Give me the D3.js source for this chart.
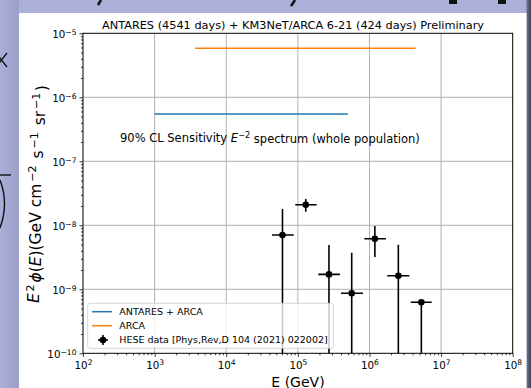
<!DOCTYPE html>
<html><head><meta charset="utf-8">
<script src="https://cdn.jsdelivr.net/npm/d3@7/dist/d3.min.js"></script>
<style>html,body{margin:0;padding:0;background:#a8aed6;}svg{display:block;font-family:"DejaVu Sans",sans-serif;}</style>
</head><body>
<svg id="c" width="531" height="388"></svg>
<script>
// ---- data ----
const titleText = "ANTARES (4541 days) + KM3NeT/ARCA 6-21 (424 days) Preliminary";
const xTicks = [1e2, 1e3, 1e4, 1e5, 1e6, 1e7, 1e8];
const yTicks = [1e-10, 1e-9, 1e-8, 1e-7, 1e-6, 1e-5];
const xTickExp = ["2", "3", "4", "5", "6", "7", "8"];
const yTickExp = ["−10", "−9", "−8", "−7", "−6", "−5"];
// sensitivity lines
const antaresArcaE = [1e3, 5.0e5];
const antaresArcaFlux = [5.48e-7, 5.48e-7];
const arcaE = [3.67e3, 4.41e6];
const arcaFlux = [5.83e-6, 5.83e-6];
// HESE data points
const heseE = [6.1e4, 1.29e5, 2.72e5, 5.65e5, 1.19e6, 2.53e6, 5.3e6];
const heseELow = [4.36e4, 9.2e4, 1.93e5, 4.0e5, 8.47e5, 1.77e6, 3.77e6];
const heseEHigh = [8.75e4, 1.83e5, 3.87e5, 8.11e5, 1.70e6, 3.6e6, 7.4e6];
const heseFlux = [7.05e-9, 2.1e-8, 1.71e-9, 8.66e-10, 6.18e-9, 1.63e-9, 6.26e-10];
const heseFluxLow = [1e-12, 1.63e-8, 1e-12, 1e-12, 3.2e-9, 1e-12, 1e-12];
const heseFluxHigh = [1.8e-8, 2.58e-8, 4.92e-9, 3.73e-9, 9.75e-9, 4.97e-9, 6.26e-10];
const legendLabels = ["ANTARES + ARCA", "ARCA", "HESE data [Phys,Rev,D 104 (2021) 022002]"];

// ---- layout ----
const svg = d3.select("#c");
const L = 83, R = 512.7, T = 33.3, B = 353.3;
const x = d3.scaleLog().domain([1e2, 1e8]).range([L, R]);
const y = d3.scaleLog().domain([1e-10, 1e-5]).range([B, T]);
const blue = "#1f77b4", orange = "#ff7f0e";

// background (slide)
const defs = svg.append("defs");
const g1 = defs.append("linearGradient").attr("id","rstrip").attr("x1",0).attr("x2",1).attr("y1",0).attr("y2",0);
g1.append("stop").attr("offset","0%").attr("stop-color","#6d7290");
g1.append("stop").attr("offset","100%").attr("stop-color","#3f4254");
const g2 = defs.append("linearGradient").attr("id","lstrip").attr("x1",0).attr("x2",1).attr("y1",0).attr("y2",0);
g2.append("stop").attr("offset","0%").attr("stop-color","#a9afd8");
g2.append("stop").attr("offset","100%").attr("stop-color","#9aa0c8");
svg.append("rect").attr("width",531).attr("height",388).attr("fill","#aab0d8");
svg.append("rect").attr("x",0).attr("y",0).attr("width",19).attr("height",388).attr("fill","url(#lstrip)");
svg.append("rect").attr("x",526.5).attr("y",0).attr("width",4.5).attr("height",388).attr("fill","url(#rstrip)");
// fragments of slide text behind the figure
const frag = svg.append("g").attr("fill","#111").attr("stroke","#111");
frag.append("path").attr("d","M101,0 L98,5").attr("stroke-width",2.5).attr("fill","none");
frag.append("path").attr("d","M295,0 L291,6").attr("stroke-width",2.5).attr("fill","none");
frag.append("rect").attr("x",449).attr("y",0).attr("width",8).attr("height",4).attr("stroke","none");
frag.append("rect").attr("x",498).attr("y",0).attr("width",8).attr("height",4).attr("stroke","none");
frag.append("path").attr("d","M-4,53 L7,67 M7,53 L-4,67").attr("stroke-width",1.3).attr("fill","none");
frag.append("path").attr("d","M0,175 L11,175").attr("stroke-width",1.4).attr("fill","none");
frag.append("path").attr("d","M0,180 Q9,203 0,228").attr("stroke-width",1.4).attr("fill","none");

// figure panel
svg.append("rect").attr("x",19).attr("y",13).attr("width",507.5).attr("height",375).attr("fill","#ffffff");

// grid
const grid = svg.append("g").attr("stroke","#b0b0b0").attr("stroke-width",1);
grid.selectAll(".gx").data(xTicks.slice(1,-1)).join("line")
  .attr("x1",d=>x(d)).attr("x2",d=>x(d)).attr("y1",T).attr("y2",B);
grid.selectAll(".gy").data(yTicks.slice(1,-1)).join("line")
  .attr("y1",d=>y(d)).attr("y2",d=>y(d)).attr("x1",L).attr("x2",R);

// minor tick values
const minorX = [], minorY = [];
for (let k=2;k<8;k++) for (let m=2;m<10;m++) minorX.push(m*Math.pow(10,k));
for (let k=-10;k<-5;k++) for (let m=2;m<10;m++) minorY.push(m*Math.pow(10,k));

function supLabel(sel, exps){
  sel.selectAll("text").each(function(d,i){
    const t = d3.select(this); t.text("");
    t.append("tspan").text("10");
    t.append("tspan").attr("dy","-0.45em").attr("font-size","7.6px").text(exps[i]);
  });
}

// axes
const gxMinor = svg.append("g").attr("transform",`translate(0,${B})`)
  .call(d3.axisBottom(x).tickValues(minorX).tickSize(2).tickFormat(""));
const gyMinor = svg.append("g").attr("transform",`translate(${L},0)`)
  .call(d3.axisLeft(y).tickValues(minorY).tickSize(2).tickFormat(""));
const gx = svg.append("g").attr("transform",`translate(0,${B})`)
  .call(d3.axisBottom(x).tickValues(xTicks).tickSize(3.5).tickPadding(3).tickFormat(()=>"x"));
const gy = svg.append("g").attr("transform",`translate(${L},0)`)
  .call(d3.axisLeft(y).tickValues(yTicks).tickSize(3.5).tickPadding(3).tickFormat(()=>"x"));
[gxMinor,gyMinor,gx,gy].forEach(g=>{
  g.select(".domain").remove();
  g.selectAll("line").attr("stroke","#000").attr("stroke-width",0.8);
});
[gx,gy].forEach(g=>g.attr("font-family","DejaVu Sans").attr("font-size",10.3));
gx.selectAll("text").attr("fill","#000").attr("dy","0.85em");
gy.selectAll("text").attr("fill","#000").attr("dy","0.45em");
supLabel(gx, xTickExp);
supLabel(gy, yTickExp);

// plot frame
svg.append("rect").attr("x",L).attr("y",T).attr("width",R-L).attr("height",B-T)
  .attr("fill","none").attr("stroke","#000").attr("stroke-width",1);

// clip
defs.append("clipPath").attr("id","plotclip").append("rect")
  .attr("x",L).attr("y",T).attr("width",R-L).attr("height",B-T);
const plot = svg.append("g").attr("clip-path","url(#plotclip)");

// sensitivity lines
const line = d3.line().x(d=>x(d[0])).y(d=>y(d[1]));
plot.append("path").attr("d", line(d3.zip(antaresArcaE, antaresArcaFlux)))
  .attr("stroke",blue).attr("stroke-width",1.5).attr("fill","none");
plot.append("path").attr("d", line(d3.zip(arcaE, arcaFlux)))
  .attr("stroke",orange).attr("stroke-width",1.5).attr("fill","none");

// HESE points
const pts = heseE.map((e,i)=>({e, el:heseELow[i], eh:heseEHigh[i], f:heseFlux[i], fl:heseFluxLow[i], fh:heseFluxHigh[i]}));
const pg = plot.append("g");
pg.selectAll(".xe").data(pts).join("line")
  .attr("x1",d=>x(d.el)).attr("x2",d=>x(d.eh)).attr("y1",d=>y(d.f)).attr("y2",d=>y(d.f))
  .attr("stroke","#000").attr("stroke-width",1.6);
pg.selectAll(".ye").data(pts).join("line")
  .attr("x1",d=>x(d.e)).attr("x2",d=>x(d.e)).attr("y1",d=>y(d.fl)).attr("y2",d=>y(d.fh))
  .attr("stroke","#000").attr("stroke-width",1.6);
pg.selectAll("circle").data(pts).join("circle")
  .attr("cx",d=>x(d.e)).attr("cy",d=>y(d.f)).attr("r",3.3).attr("fill","#000");

// annotation
const ann = svg.append("text").attr("x",120).attr("y",141.5).attr("font-size","11.5px").attr("fill","#000");
ann.append("tspan").text("90% CL Sensitivity ");
ann.append("tspan").attr("font-style","italic").text("E");
ann.append("tspan").attr("dy","-0.45em").attr("font-size","8.2px").text("−2");
ann.append("tspan").attr("dy","0.45em").text(" spectrum (whole population)");

// title
svg.append("text").attr("x",293).attr("y",29).attr("text-anchor","middle")
  .attr("font-size","11.3px").attr("fill","#000").text(titleText);

// x label
svg.append("text").attr("x",298).attr("y",386.5).attr("text-anchor","middle")
  .attr("font-size","14px").attr("fill","#000").text("E (GeV)");

// y label
const yl = svg.append("text").attr("transform","translate(38.5,194) rotate(-90)")
  .attr("text-anchor","middle").attr("font-size","15.5px").attr("fill","#000");
yl.append("tspan").attr("font-style","italic").text("E");
yl.append("tspan").attr("dx",1.5).attr("dy","-0.45em").attr("font-size","11px").text("2");
yl.append("tspan").attr("dx",2).attr("dy","0.45em").attr("font-style","italic").text("ϕ");
yl.append("tspan").text("(");
yl.append("tspan").attr("font-style","italic").text("E");
yl.append("tspan").text(")(GeV cm");
yl.append("tspan").attr("dx",2).attr("dy","-0.45em").attr("font-size","11px").text("−2");
yl.append("tspan").attr("dx",2).attr("dy","0.45em").text(" s");
yl.append("tspan").attr("dx",2).attr("dy","-0.45em").attr("font-size","11px").text("−1");
yl.append("tspan").attr("dx",2).attr("dy","0.45em").text(" sr");
yl.append("tspan").attr("dx",2).attr("dy","-0.45em").attr("font-size","11px").text("−1");
yl.append("tspan").attr("dx",1.5).attr("dy","0.45em").text(")");

// legend
const lg = svg.append("g");
lg.append("rect").attr("x",87.7).attr("y",303.3).attr("width",245.6).attr("height",45).attr("rx",2.5)
  .attr("fill","#ffffff").attr("fill-opacity",0.8).attr("stroke","#cccccc").attr("stroke-width",0.8);
const rowsY = [311.7, 325.7, 340];
lg.append("line").attr("x1",92).attr("x2",112).attr("y1",rowsY[0]).attr("y2",rowsY[0]).attr("stroke",blue).attr("stroke-width",1.5);
lg.append("line").attr("x1",92).attr("x2",112).attr("y1",rowsY[1]).attr("y2",rowsY[1]).attr("stroke",orange).attr("stroke-width",1.5);
lg.append("line").attr("x1",98).attr("x2",108).attr("y1",rowsY[2]).attr("y2",rowsY[2]).attr("stroke","#000").attr("stroke-width",1.6);
lg.append("line").attr("x1",103).attr("x2",103).attr("y1",rowsY[2]-5).attr("y2",rowsY[2]+5).attr("stroke","#000").attr("stroke-width",1.6);
lg.append("circle").attr("cx",103).attr("cy",rowsY[2]).attr("r",3.3).attr("fill","#000");
lg.selectAll("text").data(legendLabels).join("text")
  .attr("x",119.3).attr("y",(d,i)=>rowsY[i]).attr("dy","0.35em")
  .attr("font-size","9.5px").attr("fill","#000").text(d=>d);
</script>
</body></html>
